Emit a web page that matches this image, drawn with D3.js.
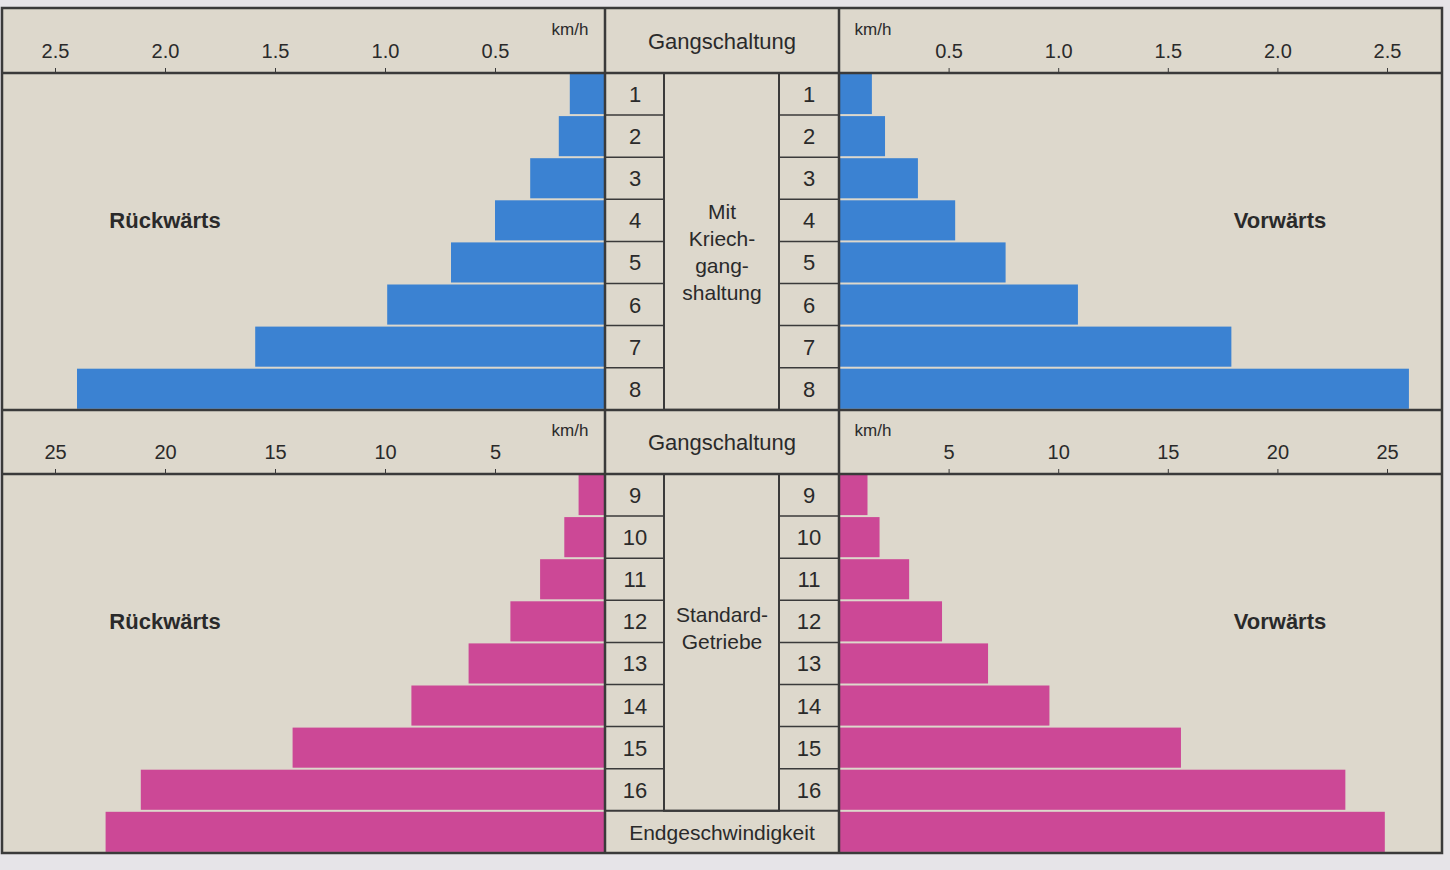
<!DOCTYPE html>
<html lang="de">
<head>
<meta charset="utf-8">
<title>Gangschaltung</title>
<script src="https://d3js.org/d3.v7.min.js"></script>
<style>
  body { margin: 0; background: #e6e4e8; }
  text { font-family: "Liberation Sans", Arial, sans-serif; fill: #2a2a2a; }
</style>
</head>
<body>
<div id="chart"></div>
<script>
// data
var gearsTop = ["1", "2", "3", "4", "5", "6", "7", "8"];
var backTop = [0.16, 0.21, 0.34, 0.50, 0.70, 0.99, 1.59, 2.40];
var fwdTop = [0.15, 0.21, 0.36, 0.53, 0.76, 1.09, 1.79, 2.60];
var gearsBot = ["9", "10", "11", "12", "13", "14", "15", "16", "E"];
var backBot = [1.2, 1.85, 2.95, 4.3, 6.2, 8.8, 14.2, 21.1, 22.7];
var fwdBot = [1.3, 1.85, 3.2, 4.7, 6.8, 9.6, 15.6, 23.1, 24.9];
var ticksTop = [0.5, 1.0, 1.5, 2.0, 2.5];
var ticksBot = [5, 10, 15, 20, 25];

var w = 1450, h = 870;
var L0 = 605, R0 = 839, X1 = 1442, X0 = 2;
var blue = "#3b82d2", pink = "#cc4896", bg = "#ddd8cc", line = "#3a3a3a";

var svg = d3.select("#chart").append("svg").attr("width", w).attr("height", h);

svg.append("rect").attr("x", X0).attr("y", 8).attr("width", X1 - X0).attr("height", 845)
   .attr("fill", bg);

function section(cfg) {
  var y = d3.scaleBand().domain(cfg.gears).range([cfg.y0, cfg.y0 + 42.1 * cfg.gears.length]);
  var xl = d3.scaleLinear().domain([0, cfg.max]).range([L0, 55]);
  var xr = d3.scaleLinear().domain([0, cfg.max]).range([R0, 1387]);
  var g = svg.append("g");

  // bars
  g.selectAll(".bl").data(cfg.back).enter().append("rect")
   .attr("x", function(d) { return xl(d); })
   .attr("y", function(d, i) { return y(cfg.gears[i]) + 1; })
   .attr("width", function(d) { return L0 - xl(d); })
   .attr("height", y.bandwidth() - 2)
   .attr("fill", cfg.color);
  g.selectAll(".br").data(cfg.fwd).enter().append("rect")
   .attr("x", R0)
   .attr("y", function(d, i) { return y(cfg.gears[i]) + 1; })
   .attr("width", function(d) { return xr(d) - R0; })
   .attr("height", y.bandwidth() - 2)
   .attr("fill", cfg.color);

  // axes
  var axL = g.append("g").attr("transform", "translate(0," + cfg.y0 + ")")
    .call(d3.axisTop(xl).tickValues(cfg.ticks).tickSize(5).tickPadding(10).tickFormat(cfg.fmt));
  var axR = g.append("g").attr("transform", "translate(0," + cfg.y0 + ")")
    .call(d3.axisTop(xr).tickValues(cfg.ticks).tickSize(5).tickPadding(10).tickFormat(cfg.fmt));
  [axL, axR].forEach(function(a) {
    a.select(".domain").remove();
    a.selectAll("line").attr("stroke", line);
    a.selectAll("text").attr("font-size", 20).attr("fill", "#2a2a2a");
  });
  g.append("text").attr("x", 570).attr("y", cfg.y0 - 38).attr("text-anchor", "middle")
   .attr("font-size", 17).text("km/h");
  g.append("text").attr("x", 873).attr("y", cfg.y0 - 38).attr("text-anchor", "middle")
   .attr("font-size", 17).text("km/h");
  g.append("text").attr("x", 722).attr("y", cfg.y0 - 24).attr("text-anchor", "middle")
   .attr("font-size", 22).text("Gangschaltung");

  // number cells
  var nums = cfg.gears.filter(function(d) { return d !== "E"; });
  var bottom = y(nums[nums.length - 1]) + y.bandwidth();
  g.append("rect").attr("x", 664).attr("y", cfg.y0).attr("width", 115).attr("height", bottom - cfg.y0)
   .attr("fill", "none").attr("stroke", line).attr("stroke-width", 2);
  nums.forEach(function(n, i) {
    [635, 809].forEach(function(cx) {
      if (i > 0) g.append("line").attr("x1", cx - 29).attr("x2", cx + 29)
        .attr("y1", y(n)).attr("y2", y(n)).attr("stroke", line).attr("stroke-width", 1.5);
      g.append("text").attr("x", cx).attr("y", y(n) + y.bandwidth() / 2 + 8)
       .attr("text-anchor", "middle").attr("font-size", 22).text(n);
    });
  });
  if (bottom < y.range()[1]) {
    g.append("line").attr("x1", L0).attr("x2", R0).attr("y1", bottom).attr("y2", bottom)
     .attr("stroke", line).attr("stroke-width", 2);
    g.append("text").attr("x", 722).attr("y", bottom + 29).attr("text-anchor", "middle")
     .attr("font-size", 21).text("Endgeschwindigkeit");
  }
  cfg.mid.forEach(function(t, i) {
    g.append("text").attr("x", 722).attr("y", cfg.midY + i * 27).attr("text-anchor", "middle")
     .attr("font-size", 21).text(t);
  });
  var ly = cfg.y0 + 155;
  g.append("text").attr("x", 165).attr("y", ly).attr("text-anchor", "middle")
   .attr("font-size", 22).attr("font-weight", "bold").attr("fill", "#333").text("Rückwärts");
  g.append("text").attr("x", 1280).attr("y", ly).attr("text-anchor", "middle")
   .attr("font-size", 22).attr("font-weight", "bold").attr("fill", "#333").text("Vorwärts");
}

section({ gears: gearsTop, back: backTop, fwd: fwdTop, max: 2.5, y0: 73, color: blue,
  ticks: ticksTop, fmt: d3.format(".1f"), mid: ["Mit", "Kriech-", "gang-", "shaltung"], midY: 219 });
section({ gears: gearsBot, back: backBot, fwd: fwdBot, max: 25, y0: 474, color: pink,
  ticks: ticksBot, fmt: d3.format("d"), mid: ["Standard-", "Getriebe"], midY: 622 });

// frame lines
var fr = svg.append("g").attr("stroke", line).attr("stroke-width", 2.5).attr("fill", "none");
fr.append("rect").attr("x", X0).attr("y", 8).attr("width", X1 - X0).attr("height", 845);
[73, 410, 474].forEach(function(yy) {
  fr.append("line").attr("x1", X0).attr("x2", X1).attr("y1", yy).attr("y2", yy);
});
[L0, R0].forEach(function(xx) {
  fr.append("line").attr("x1", xx).attr("x2", xx).attr("y1", 8).attr("y2", 853);
});
</script>
</body>
</html>
